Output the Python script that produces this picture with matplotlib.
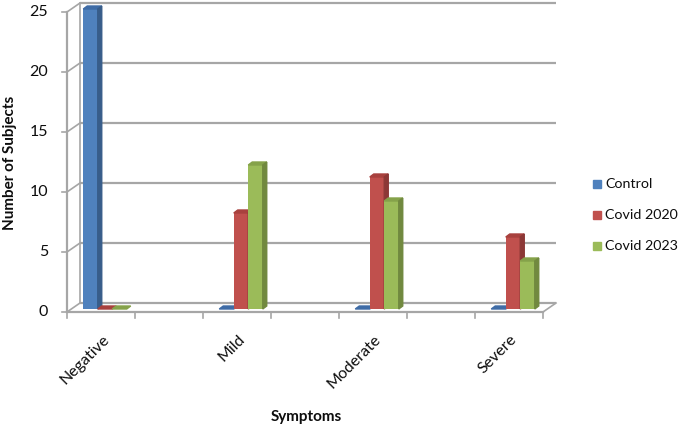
import matplotlib
matplotlib.use("Agg")
import matplotlib.pyplot as plt
from matplotlib.patches import Polygon
import numpy as np

categories = ["Negative", "", "Mild", "", "Moderate", "", "Severe"]
series_names = ["Control", "Covid 2020", "Covid 2023"]
control = [25, 0, 0, 0]
covid2020 = [0, 8, 11, 6]
covid2023 = [0, 12, 9, 4]
group_pos = [0, 2, 4, 6]
y_ticks = [0, 5, 10, 15, 20, 25]
x_label = "Symptoms"
y_label = "Number of Subjects"

front_colors = ["#4F81BD", "#C0504D", "#9BBB59"]
side_colors = ["#385D8A", "#8C3836", "#71893F"]
top_colors = ["#3F6CA6", "#A8413E", "#85A24A"]

plt.rcParams['font.family'] = ['Lato', 'DejaVu Sans']

W, H = 685, 429
fig = plt.figure(figsize=(W / 100, H / 100), dpi=100)
x0, x1 = 67, 543
yb, yt = 312, 12
ax = fig.add_axes([x0 / W, (H - yb) / H, (x1 - x0) / W, (yb - yt) / H])
ax.set_xlim(-0.5, 6.5)
ax.set_ylim(0, 25)
ax.axis("off")

px_x = (x1 - x0) / 7.0
px_y = (yb - yt) / 25.0
dxb = 13 / px_x   # back-wall depth offset (data units)
dyb = 9 / px_y
grid_c = "#A6A6A6"
lw = 1.6
txt_c = "#0D0D0D"

# back wall gridlines
for v in y_ticks:
    ax.plot([-0.5 + dxb, 6.5 + dxb], [v + dyb, v + dyb], color=grid_c, lw=lw,
            clip_on=False, zorder=1, solid_capstyle="butt")
    ax.plot([-0.5, -0.5 + dxb], [v, v + dyb], color=grid_c, lw=1.2,
            clip_on=False, zorder=1)
    ax.plot([-0.5 - 5 / px_x, -0.5], [v, v], color=grid_c, lw=1.2,
            clip_on=False, zorder=1)
    ax.text(-0.5 - 19 / px_x, v, str(v), ha="right", va="center",
            fontsize=11.5, color=txt_c)
ax.plot([-0.5 + dxb, -0.5 + dxb], [dyb, 25 + dyb], color=grid_c, lw=1.2,
        clip_on=False, zorder=1)
# front axis
ax.plot([-0.5, -0.5], [0, 25], color=grid_c, lw=lw, clip_on=False, zorder=1)
# floor
ax.plot([-0.5, 6.5], [0, 0], color=grid_c, lw=lw, clip_on=False, zorder=1)
ax.plot([6.5, 6.5 + dxb], [0, dyb], color=grid_c, lw=1.2, clip_on=False, zorder=1)
for i in range(8):
    xt = -0.5 + i
    ax.plot([xt, xt], [0, -6 / px_y], color=grid_c, lw=1.2, clip_on=False, zorder=1)

# bars
bw = 14.5 / px_x
off_x = 4 / px_x
off_y = 3 / px_y
dep_x = 4 / px_x
dep_y = 3 / px_y
all_series = [control, covid2020, covid2023]
for s, vals in enumerate(all_series):
    for g, v in zip(group_pos, vals):
        left = g + off_x - 1.5 * bw + s * bw
        bottom = off_y
        ax.bar(left, v, width=bw, bottom=bottom, align="edge",
               color=front_colors[s], zorder=3 + s, clip_on=False)
        top = bottom + v
        ax.add_patch(Polygon([[left, top], [left + bw, top],
                              [left + bw + dep_x, top + dep_y], [left + dep_x, top + dep_y]],
                             closed=True, color=top_colors[s], zorder=3 + s, clip_on=False))
        if v > 0:
            ax.add_patch(Polygon([[left + bw, bottom], [left + bw + dep_x, bottom + dep_y],
                                  [left + bw + dep_x, top + dep_y], [left + bw, top]],
                                 closed=True, color=side_colors[s], zorder=3 + s, clip_on=False))

# category labels
for i, c in enumerate(categories):
    if c:
        ax.text(i + 1 / px_x, -20 / px_y, c, rotation=45, ha="right", va="top",
                rotation_mode="anchor", fontsize=11.5, color=txt_c)

fig.text(306 / W, 1 - 417 / H, x_label, ha="center", va="center",
         fontsize=11, fontweight="bold", color=txt_c)
fig.text(10 / W, 1 - 163 / H, y_label, ha="center", va="center", rotation=90,
         fontsize=11, fontweight="bold", color=txt_c)

# legend
leg_y = [184, 215, 246]
for name, col, ly in zip(series_names, front_colors, leg_y):
    fig.patches.append(Polygon([[593 / W, 1 - (ly + 4) / H], [601 / W, 1 - (ly + 4) / H],
                                [601 / W, 1 - (ly - 4) / H], [593 / W, 1 - (ly - 4) / H]],
                               closed=True, color=col, transform=fig.transFigure))
    fig.text(605 / W, 1 - ly / H, name, ha="left", va="center", fontsize=10.3, color=txt_c)

fig.savefig("out.png", dpi=100)
